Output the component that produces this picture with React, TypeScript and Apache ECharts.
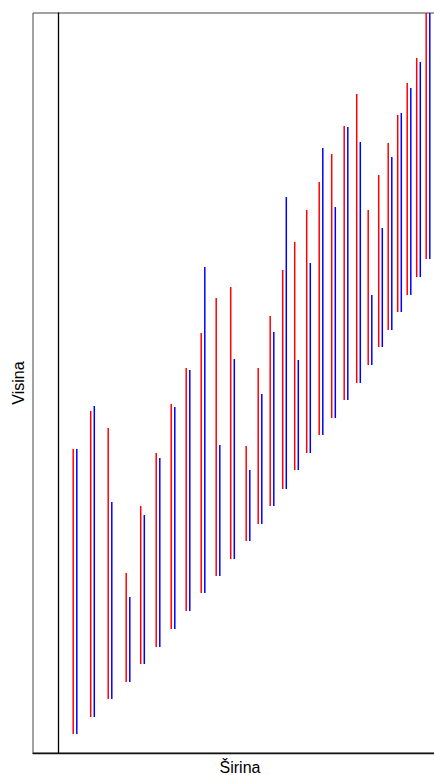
import React, { useEffect, useRef } from "react";
import * as echarts from "echarts";

// x position (Širina) of each red/blue pair
const pairX = [
  1.7, 3.45, 5.2, 7.0, 8.45, 10.0, 11.5, 13.0, 14.5, 16.0, 17.45, 19.0, 20.2, 21.4,
  22.65, 23.85, 25.05, 26.3, 27.55, 28.8, 30.05, 31.2, 32.25, 33.2, 34.15, 35.1, 36.05, 37.0,
];
// common lower end of each pair (Visina)
const lowValues = [
  1.9, 3.6, 5.4, 7.1, 8.9, 10.6, 12.4, 14.2, 16.0, 17.7, 19.4, 21.2, 22.9, 24.7,
  26.4, 28.3, 30.0, 31.8, 33.5, 35.3, 37.0, 38.8, 40.6, 42.3, 44.1, 45.8, 47.6, 49.4,
];
// upper end of red lines
const redHigh = [
  30.4, 34.2, 32.5, 18.0, 24.7, 30.0, 34.9, 38.5, 42.0, 45.5, 46.6, 30.7, 38.5, 43.7,
  48.3, 51.1, 54.3, 57.1, 59.9, 62.7, 65.9, 54.3, 57.8, 61.0, 63.8, 67.0, 69.5, 76.0,
];
// upper end of blue lines
const blueHigh = [
  30.4, 34.7, 25.1, 15.6, 23.8, 29.5, 34.6, 38.3, 48.6, 30.8, 39.4, 28.3, 35.9, 42.1,
  55.6, 39.3, 49.0, 60.5, 54.6, 62.6, 61.1, 45.8, 52.5, 59.6, 64.0, 66.5, 69.1, 76.0,
];

const xTitle = "Širina";
const yTitle = "Visina";

function makeSeries(name: string, high: number[], color: string, offset: number) {
  return {
    type: "custom",
    name,
    clip: true,
    data: pairX.map((x, i) => [x, lowValues[i], high[i]]),
    encode: { x: 0, y: [1, 2] },
    renderItem: (params: any, api: any) => {
      const x = api.value(0);
      const p1 = api.coord([x, api.value(1)]);
      const p2 = api.coord([x, api.value(2)]);
      return {
        type: "line",
        shape: { x1: p1[0] + offset, y1: p1[1], x2: p2[0] + offset, y2: p2[1] },
        style: { stroke: color, lineWidth: 1.5, fill: null },
      };
    },
  };
}

export default function App() {
  const ref = useRef<HTMLDivElement>(null);
  useEffect(() => {
    if (!ref.current) return;
    const chart = echarts.init(ref.current, undefined, { renderer: "svg" });
    chart.setOption({
      animation: false,
      backgroundColor: "#ffffff",
      grid: {
        show: true,
        left: 33,
        top: 13,
        right: 12,
        bottom: 22,
        borderColor: "#444",
        borderWidth: 1,
        containLabel: false,
      },
      xAxis: {
        type: "value",
        min: -2.5,
        max: 40,
        axisLine: { show: true, lineStyle: { color: "#111", width: 1.3 } },
        axisTick: { show: false },
        axisLabel: { show: false },
        splitLine: { show: false },
      },
      yAxis: {
        type: "value",
        min: 0,
        max: 74,
        axisLine: { show: true, onZero: true, lineStyle: { color: "#000", width: 1.3 } },
        axisTick: { show: false },
        axisLabel: { show: false },
        splitLine: { show: false },
      },
      graphic: [
        {
          type: "text",
          x: 18,
          y: 383,
          rotation: Math.PI / 2,
          style: {
            text: yTitle,
            align: "center",
            verticalAlign: "middle",
            font: "16px 'Liberation Sans', Arial, sans-serif",
            fill: "#000",
          },
        },
        {
          type: "text",
          x: 240,
          y: 767,
          style: {
            text: xTitle,
            align: "center",
            verticalAlign: "middle",
            font: "16px 'Liberation Sans', Arial, sans-serif",
            fill: "#000",
          },
        },
      ],
      series: [
        makeSeries("red", redHigh, "#ff0000", -1.8),
        makeSeries("blue", blueHigh, "#0000ff", 1.8),
      ],
    });
    return () => chart.dispose();
  }, []);
  return (
    <div
      style={{
        position: "absolute",
        left: 0,
        top: 0,
        width: 434,
        height: 775,
        overflow: "hidden",
        background: "#fff",
      }}
    >
      <div ref={ref} style={{ width: 470, height: 775 }} />
    </div>
  );
}
